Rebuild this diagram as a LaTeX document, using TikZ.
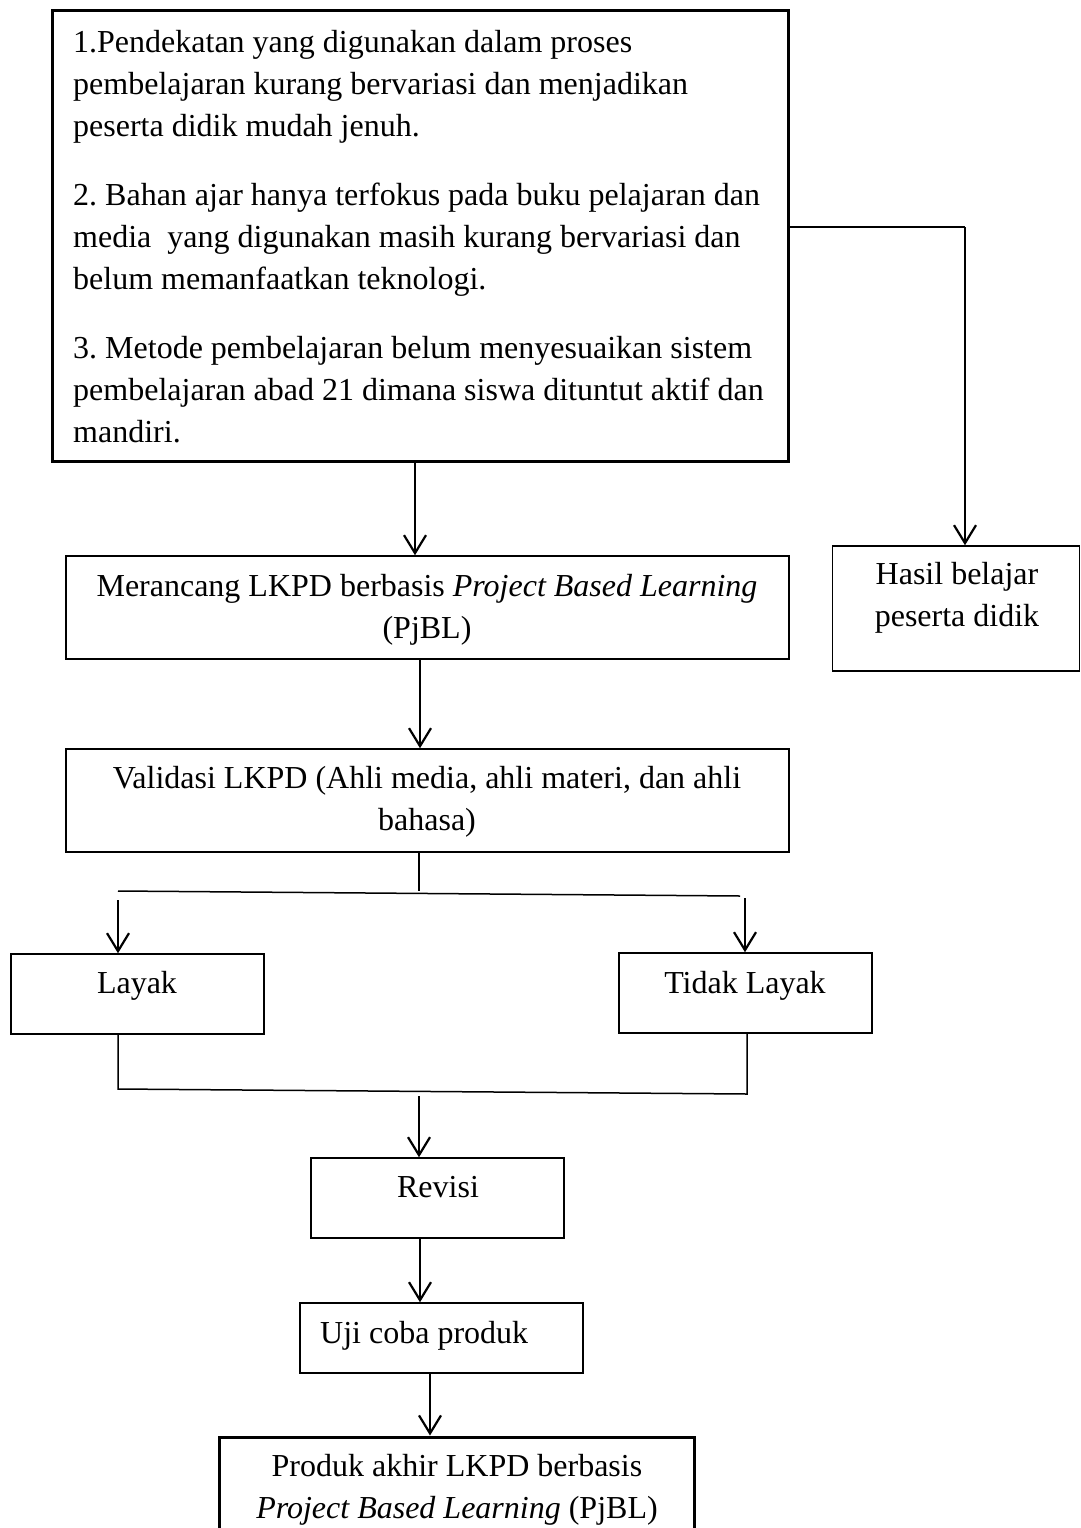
\documentclass[tikz,border=0pt]{standalone}
\usepackage{fontspec}
\setmainfont{Liberation Serif}
\usetikzlibrary{arrows.meta}
\frenchspacing
\tikzset{
  box/.style={draw, line width=1.5pt, inner sep=0pt},
  thickbox/.style={draw, line width=3pt, inner sep=0pt},
  txt/.style={font=\fontsize{32}{42}\selectfont\frenchspacing, inner sep=0pt},
  arr/.style={line width=2.2pt, -{Straight Barb[length=18pt,width=22pt]}},
  ln/.style={line width=1.5pt}
}
\begin{document}
\begin{tikzpicture}[x=1pt,y=-1pt]
\useasboundingbox (0,0) rectangle (1081,1528);
\fill[white] (0,0) rectangle (1081,1528);
\clip (0,0) rectangle (1081,1528);
% boxes
\node[thickbox, minimum width=736pt, minimum height=450pt] (top) at (420,236) {};
\node[box, minimum width=247pt, minimum height=125pt] (has) at (956,608.5) {};
\node[box, minimum width=723pt, minimum height=103pt] (mer) at (427.5,607.5) {};
\node[box, minimum width=723pt, minimum height=103pt] (val) at (427.5,800.5) {};
\node[box, minimum width=253pt, minimum height=80pt] (lay) at (137.5,994) {};
\node[box, minimum width=253pt, minimum height=80pt] (tid) at (745.5,993) {};
\node[box, minimum width=253pt, minimum height=80pt] (rev) at (437.5,1198) {};
\node[box, minimum width=283pt, minimum height=70pt] (uji) at (441.5,1338) {};
\node[thickbox, minimum width=475pt, minimum height=126pt] (prod) at (456.5,1500) {};
% texts (anchor base = baseline of the last line)
\node[txt, anchor=base west, align=left] (topt) at (73,442) {1.Pendekatan yang digunakan dalam proses\\
pembelajaran kurang bervariasi dan menjadikan\\
peserta didik mudah jenuh.\\[27pt]
2. Bahan ajar hanya terfokus pada buku pelajaran dan\\
media\ \ yang digunakan masih kurang bervariasi dan\\
belum memanfaatkan teknologi.\\[27pt]
3. Metode pembelajaran belum menyesuaikan sistem\\
pembelajaran abad 21 dimana siswa dituntut aktif dan\\
mandiri.};
\node[txt, anchor=base, align=center] (mert) at (427,638) {Merancang LKPD berbasis \textit{Project Based Learning}\\(PjBL)};
\node[txt, anchor=base, align=center] (valt) at (427,830) {Validasi LKPD (Ahli media, ahli materi, dan ahli\\bahasa)};
\node[txt, anchor=base, align=center] (hast) at (957,626) {Hasil belajar\\peserta didik};
\node[txt, anchor=base] (layt) at (137,993) {Layak};
\node[txt, anchor=base] (tidt) at (745,993) {Tidak Layak};
\node[txt, anchor=base] (revt) at (438,1197) {Revisi};
\node[txt, anchor=base west] (ujit) at (320,1343) {Uji coba produk};
\node[txt, anchor=base, align=center] (prodt) at (457,1518) {Produk akhir LKPD berbasis\\\textit{Project Based Learning} (PjBL)};
% connectors
\draw[arr] ([xshift=-5pt]top.south) -- ([xshift=-5pt]top.south |- mer.north);
\coordinate (c1) at (965,227);
\draw[ln] ([yshift=9pt]top.east) -- (c1);
\draw[arr] (c1) -- (c1 |- has.north);
\draw[arr] ([xshift=-7.5pt]mer.south) -- ([xshift=-7.5pt]mer.south |- val.north);
\coordinate (sp) at (419,891);
\draw[ln] ([xshift=-8.5pt]val.south) -- (sp);
\coordinate (hl) at (118,891);
\coordinate (hr) at (740,896);
\draw[ln] (hl) -- (hr);
\coordinate (al) at (118,900);
\draw[arr] (al) -- (al |- lay.north);
\coordinate (ar) at (745,898);
\draw[arr] (ar) -- (ar |- tid.north);
\coordinate (ml) at (118,1089);
\coordinate (mr) at (747,1094);
\draw[ln] (ml |- lay.south) -- (ml) -- (mr) -- (mr |- tid.south);
\coordinate (ar2) at (419,1096);
\draw[arr] (ar2) -- (ar2 |- rev.north);
\draw[arr] ([xshift=-17.5pt]rev.south) -- ([xshift=-17.5pt]rev.south |- uji.north);
\draw[arr] ([xshift=-11.5pt]uji.south) -- ([xshift=-11.5pt]uji.south |- prod.north);
\end{tikzpicture}
\end{document}
